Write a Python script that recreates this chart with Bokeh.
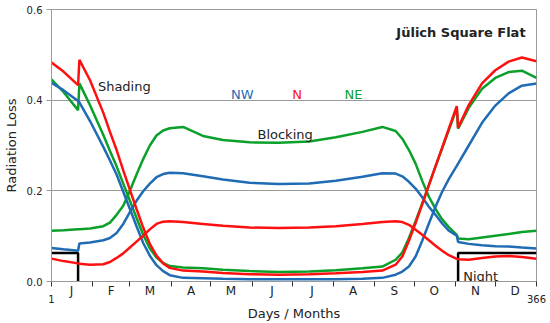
from bokeh.plotting import figure
from bokeh.models import Range1d, FixedTicker, Label, PrintfTickFormatter, LinearAxis
from bokeh.embed import file_html
from bokeh.resources import INLINE

# ---------------- data ----------------
days = [1, 10, 21, 22, 30, 40, 45, 50, 55, 60, 65, 70, 75, 80, 85, 90, 100, 115, 130,
        150, 172, 195, 215, 235, 250, 260, 265, 270, 275, 280, 285, 290, 295, 300,
        306, 307, 315, 325, 335, 345, 355, 366]

# Shading losses
shading_N = [0.483, 0.463, 0.433, 0.489, 0.444, 0.372, 0.330, 0.290, 0.245, 0.202, 0.160,
             0.119, 0.083, 0.057, 0.040, 0.030, 0.024, 0.022, 0.019, 0.016, 0.015, 0.016,
             0.018, 0.021, 0.024, 0.037, 0.055, 0.090, 0.129, 0.170, 0.212, 0.254, 0.295,
             0.337, 0.387, 0.339, 0.389, 0.437, 0.466, 0.485, 0.494, 0.486]
shading_NE = [0.446, 0.418, 0.378, 0.437, 0.389, 0.323, 0.288, 0.254, 0.216, 0.178, 0.140,
              0.103, 0.073, 0.053, 0.041, 0.034, 0.031, 0.029, 0.026, 0.023, 0.021, 0.022,
              0.025, 0.029, 0.033, 0.048, 0.064, 0.096, 0.133, 0.172, 0.213, 0.254, 0.294,
              0.334, 0.382, 0.337, 0.383, 0.425, 0.449, 0.462, 0.465, 0.449]
shading_NW = [0.438, 0.422, 0.398, 0.395, 0.354, 0.297, 0.267, 0.236, 0.198, 0.160, 0.122,
              0.085, 0.057, 0.036, 0.023, 0.014, 0.008, 0.007, 0.006, 0.005, 0.005, 0.005,
              0.005, 0.006, 0.008, 0.015, 0.022, 0.033, 0.055, 0.090, 0.128, 0.165, 0.198,
              0.226, 0.255, 0.260, 0.300, 0.350, 0.388, 0.415, 0.432, 0.437]

# Blocking losses
blocking_NE = [0.112, 0.113, 0.115, 0.115, 0.117, 0.122, 0.130, 0.147, 0.167, 0.200, 0.236,
               0.270, 0.300, 0.322, 0.333, 0.338, 0.341, 0.321, 0.312, 0.307, 0.306, 0.309,
               0.318, 0.330, 0.341, 0.332, 0.315, 0.290, 0.260, 0.222, 0.187, 0.160, 0.137,
               0.120, 0.103, 0.095, 0.093, 0.097, 0.101, 0.105, 0.109, 0.112]
blocking_NW = [0.074, 0.071, 0.068, 0.084, 0.086, 0.091, 0.096, 0.107, 0.127, 0.153, 0.178,
               0.199, 0.216, 0.230, 0.237, 0.240, 0.239, 0.232, 0.225, 0.218, 0.215, 0.216,
               0.222, 0.231, 0.239, 0.238, 0.232, 0.220, 0.205, 0.186, 0.165, 0.147, 0.128,
               0.112, 0.101, 0.087, 0.083, 0.080, 0.078, 0.077, 0.075, 0.073]
blocking_N = [0.0505, 0.045, 0.040, 0.039, 0.037, 0.038, 0.043, 0.052, 0.062, 0.075, 0.088,
              0.101, 0.115, 0.127, 0.132, 0.133, 0.131, 0.127, 0.123, 0.119, 0.118, 0.119,
              0.122, 0.127, 0.131, 0.133, 0.131, 0.125, 0.114, 0.103, 0.091, 0.079, 0.068,
              0.058, 0.050, 0.049, 0.048, 0.052, 0.055, 0.056, 0.054, 0.050]

# Night periods (day where night ends / begins) and level
night_end_day = 21
night_start_day = 307
night_level = 0.063

month_starts = [1, 32, 60, 91, 121, 152, 182, 213, 244, 274, 305, 335, 366]
month_labels = ["J", "F", "M", "A", "M", "J", "J", "A", "S", "O", "N", "D"]
y_ticks = [0.0, 0.2, 0.4, 0.6]
x_end_labels = [1, 366]

for s in (shading_N, shading_NE, shading_NW, blocking_NE, blocking_NW, blocking_N):
    assert len(s) == len(days)

BLUE = "#1f6cb4"
RED = "#ff1010"
GREEN = "#0aa02a"
TXT = "#222222"
FONT = "DejaVu Sans"

p = figure(width=550, height=323, x_range=Range1d(1, 366), y_range=Range1d(0, 0.6),
           output_backend="svg", toolbar_location=None,
           min_border_left=48, min_border_right=14, min_border_top=9, min_border_bottom=41)
p.background_fill_color = "white"
p.border_fill_color = "white"
p.outline_line_color = "#9a9a9a"
p.outline_line_width = 1

# grid
p.xgrid.visible = False
p.ygrid.ticker = FixedTicker(ticks=[0.2, 0.4])
p.ygrid.grid_line_color = "#9a9a9a"
p.ygrid.grid_line_width = 1

# y axis
p.yaxis.ticker = FixedTicker(ticks=y_ticks)
p.yaxis.formatter = PrintfTickFormatter(format="%.1f")
p.yaxis.axis_label = "Radiation Loss"
p.yaxis.axis_label_text_font = FONT
p.yaxis.axis_label_text_font_size = "13px"
p.yaxis.axis_label_text_font_style = "normal"
p.yaxis.axis_label_text_color = TXT
p.yaxis.axis_label_standoff = 5
p.yaxis.major_label_text_font = FONT
p.yaxis.major_label_text_font_size = "10px"
p.yaxis.major_label_text_color = TXT
p.yaxis.major_label_standoff = 4
p.yaxis.major_tick_out = 5
p.yaxis.major_tick_in = 0
p.yaxis.minor_tick_line_color = None
p.yaxis.axis_line_color = "#9a9a9a"
p.yaxis.major_tick_line_color = "#9a9a9a"

# x axis: month letters at mid-month, ticks at month boundaries
mids = [int((month_starts[i] + month_starts[i + 1]) / 2) for i in range(12)]
xa = p.xaxis[0]
xa.ticker = FixedTicker(ticks=mids, minor_ticks=month_starts)
xa.major_label_overrides = {m: lab for m, lab in zip(mids, month_labels)}
xa.major_tick_out = 0
xa.major_tick_in = 0
xa.minor_tick_out = 5
xa.minor_tick_in = 0
xa.minor_tick_line_color = "#333333"
xa.minor_tick_line_width = 1
xa.axis_line_color = "#9a9a9a"
xa.major_label_text_font = FONT
xa.major_label_text_font_size = "12px"
xa.major_label_text_color = TXT
xa.major_label_standoff = -3

# second axis below: end-day labels "1" and "366" plus the axis title
xb = LinearAxis(ticker=FixedTicker(ticks=x_end_labels),
                major_label_overrides={v: str(v) for v in x_end_labels})
xb.axis_line_color = None
xb.major_tick_line_color = None
xb.minor_tick_line_color = None
xb.major_tick_out = 0
xb.major_tick_in = 0
xb.minor_tick_out = 0
xb.minor_tick_in = 0
xb.major_label_text_font = FONT
xb.major_label_text_font_size = "10px"
xb.major_label_text_color = TXT
xb.major_label_standoff = -6
xb.axis_label = "Days / Months"
xb.axis_label_text_font = FONT
xb.axis_label_text_font_size = "13px"
xb.axis_label_text_font_style = "normal"
xb.axis_label_text_color = TXT
xb.axis_label_standoff = 0
p.add_layout(xb, "below")

# night markers
p.line([days[0], night_end_day, night_end_day], [night_level, night_level, 0],
       line_color="black", line_width=2.5)
p.line([night_start_day, night_start_day, days[-1]], [0, night_level, night_level],
       line_color="black", line_width=2.5)

LW = 2.5
p.line(days, blocking_NE, line_color=GREEN, line_width=LW)
p.line(days, shading_NE, line_color=GREEN, line_width=LW)
p.line(days, blocking_NW, line_color=BLUE, line_width=LW)
p.line(days, shading_NW, line_color=BLUE, line_width=LW)
p.line(days, blocking_N, line_color=RED, line_width=LW)
p.line(days, shading_N, line_color=RED, line_width=LW)

def lab(x, y, text, color=TXT, align="center", style="normal", size="13px"):
    p.add_layout(Label(x=x, y=y, text=text, text_color=color, text_align=align,
                       text_baseline="alphabetic", text_font=FONT, text_font_size=size,
                       text_font_style=style))

lab(55.8, 0.431, "Shading")
lab(176.8, 0.3253, "Blocking")
lab(324, 0.0103, "Night")
lab(144.6, 0.4125, "NW", BLUE)
lab(185.8, 0.4125, "N", RED)
lab(228.2, 0.4125, "NE", GREEN)
lab(357.8, 0.549, "Jülich Square Flat", align="right", style="bold")

open("out.html", "w").write(file_html(p, INLINE))
